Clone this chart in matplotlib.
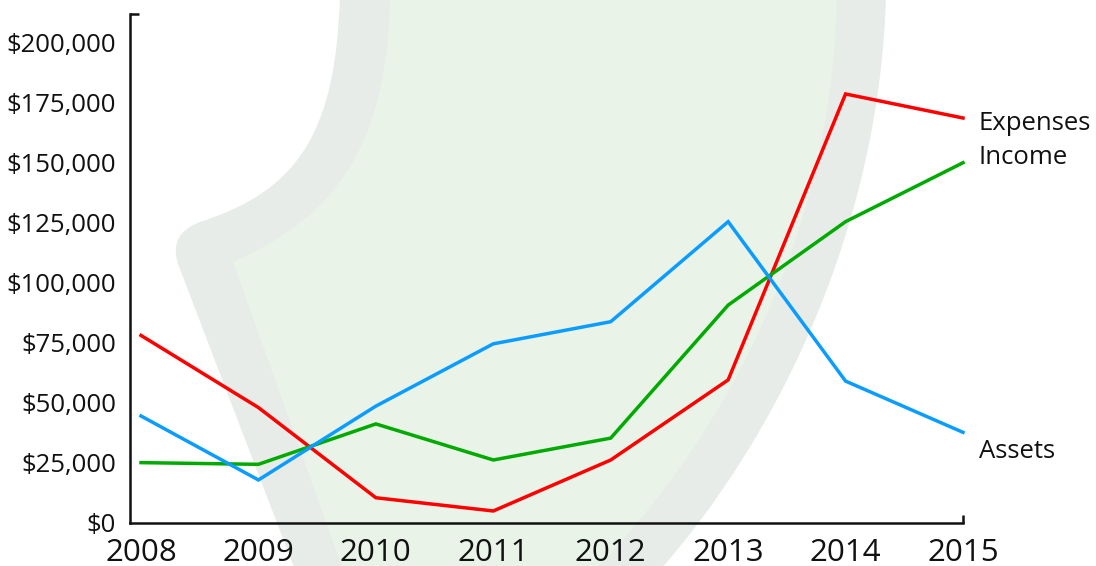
import matplotlib
matplotlib.use("Agg")
import matplotlib.pyplot as plt
from matplotlib.path import Path
from matplotlib.patches import PathPatch

plt.rcParams['font.family'] = ['Open Sans', 'DejaVu Sans']

years = [2008, 2009, 2010, 2011, 2012, 2013, 2014, 2015]
expenses = [78000, 48000, 10500, 5000, 26200, 59500, 178400, 168400]
income = [25100, 24400, 41200, 26200, 35300, 90600, 125300, 149800]
assets = [44500, 17900, 48600, 74500, 83700, 125300, 59000, 37700]
series_names = ["Expenses", "Income", "Assets"]
series_colors = ["#ff0000", "#00aa00", "#0a9cff"]
label_offsets = [(16, -5), (16, 5), (16, -19)]  # pixels
yticks = [0, 25000, 50000, 75000, 100000, 125000, 150000, 175000, 200000]

W, H = 1096, 566
fig = plt.figure(figsize=(W / 100, H / 100), dpi=100)

# background watermark (decorative)
bg = fig.add_axes([0, 0, 1, 1], zorder=0)
bg.set_xlim(0, W)
bg.set_ylim(H, 0)
bg.axis('off')
outer = Path(
    [(340, -5), (336, 130), (300, 190), (200, 222), (168, 234), (178, 264),
     (295, 570), (660, 570), (775, 440), (880, 230), (886, -5), (340, -5)],
    [Path.MOVETO, Path.CURVE4, Path.CURVE4, Path.CURVE4, Path.CURVE3, Path.CURVE3,
     Path.LINETO, Path.LINETO, Path.CURVE4, Path.CURVE4, Path.CURVE4, Path.CLOSEPOLY])
inner = Path(
    [(390, -5), (388, 140), (340, 215), (233, 262),
     (343, 570), (595, 570), (730, 430), (833, 230), (837, -5), (390, -5)],
    [Path.MOVETO, Path.CURVE4, Path.CURVE4, Path.CURVE4,
     Path.LINETO, Path.LINETO, Path.CURVE4, Path.CURVE4, Path.CURVE4, Path.CLOSEPOLY])
bg.add_patch(PathPatch(outer, facecolor='#e7ece8', edgecolor='none'))
bg.add_patch(PathPatch(inner, facecolor='#e9f3e8', edgecolor='none'))

ax = fig.add_axes([130 / W, 43 / H, 833 / W, 509 / H], zorder=1)
ax.patch.set_alpha(0)
ax.set_xlim(2008 - 11 / 117.4, 2015)
ax.set_ylim(0, 211650)

for name, vals, col, off in zip(series_names, [expenses, income, assets], series_colors, label_offsets):
    ax.plot(years, vals, color=col, lw=2.5, solid_joinstyle='miter', clip_on=False, zorder=3)
    ax.annotate(name, xy=(years[-1], vals[-1]), xytext=off, textcoords='offset pixels',
                ha='left', va='center', fontsize=18.5, color='#111111', annotation_clip=False)

for s in ['top', 'right']:
    ax.spines[s].set_visible(False)
for s in ['left', 'bottom']:
    ax.spines[s].set_linewidth(1.8)
    ax.spines[s].set_color('#111111')

ax.set_xticks(years)
ax.set_xticklabels([str(y) for y in years])
ax.set_yticks(yticks)
ax.set_yticklabels(['$' + format(v, ',') for v in yticks])
ax.tick_params(axis='y', length=0, pad=10, labelsize=18.5, labelcolor='#111111')
ax.tick_params(axis='x', length=0, pad=11, labelsize=22.5, labelcolor='#111111')

# end caps on axes
ax.plot([0, 9 / 833], [1, 1], transform=ax.transAxes, color='#111111', lw=1.8,
        clip_on=False, solid_capstyle='butt')
ax.plot([1, 1], [0, 8 / 509], transform=ax.transAxes, color='#111111', lw=1.8,
        clip_on=False, solid_capstyle='butt')

fig.savefig('out.png', dpi=100)
